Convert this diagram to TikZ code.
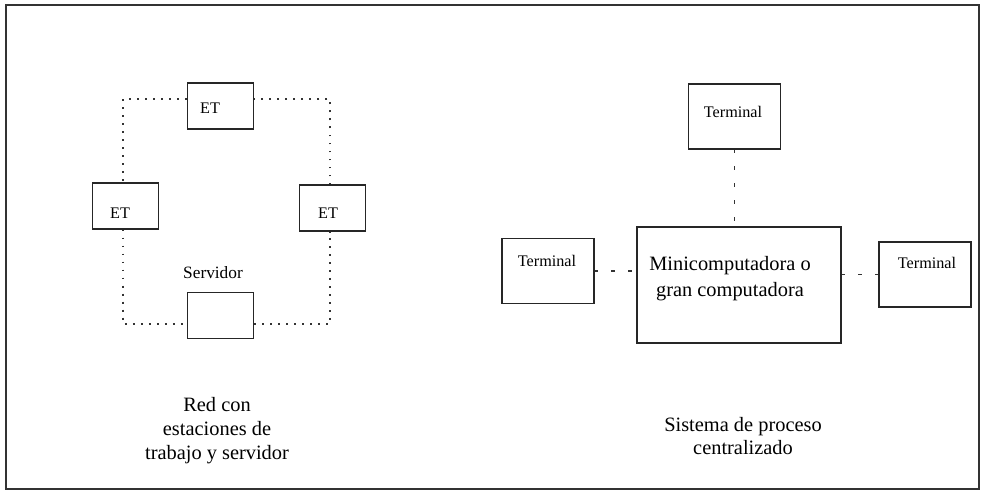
\documentclass[tikz,border=0pt]{standalone}
\usepackage{fontspec}
\setmainfont{Liberation Serif}
\begin{document}
\begin{tikzpicture}[x=0.025cm, y=-0.025cm]
  \tikzset{
    etbox/.style={draw=black!85, line width=0.8pt, minimum width=1.65cm, minimum height=1.15cm, inner sep=0pt},
    termbox/.style={etbox, minimum width=2.3cm, minimum height=1.625cm},
    ring/.style={draw=black!80, line width=1.1pt, dash pattern=on 1.3pt off 4.4pt},
    link/.style={draw=black!80, line width=1pt, dash pattern=on 2.5pt off 9.5pt},
    smalltxt/.style={font=\fontsize{11.5}{13}\selectfont, inner sep=0pt},
    captxt/.style={font=\fontsize{14.5}{17}\selectfont, align=center, inner sep=0pt}
  }
  \useasboundingbox (0,0) rectangle (984,493);
  \draw[black!80, line width=1.2pt] (6,5) rectangle (979,489);

  % red con estaciones de trabajo
  \node[etbox] (ettop) at (220.5,106) {};
  \node[etbox] (etleft) at (125.5,206) {};
  \node[etbox] (etright) at (332.5,208) {};
  \node[etbox] (serv) at (220.5,315.5) {};
  \node[smalltxt] (ettoplbl) at (210,108) {ET};
  \node[smalltxt] (etleftlbl) at (120,213) {ET};
  \node[smalltxt] (etrightlbl) at (328,213) {ET};
  \node[smalltxt, font=\fontsize{12.3}{14}\selectfont] (servlbl) at (213,273) {Servidor};

  \coordinate (rtl) at (123,99);
  \coordinate (rtr) at (330,99);
  \coordinate (rbr) at (330,324);
  \coordinate (rbl) at (123,324);
  \draw[ring] (ettop.west |- rtl) -- (rtl) -- (rtl |- etleft.north);
  \draw[ring] (rtl |- etleft.south) -- (rbl) -- (rbl -| serv.west);
  \draw[ring] (serv.east |- rbr) -- (rbr) -- (rbr |- etright.south);
  \draw[ring] (rtr |- etright.north) -- (rtr) -- (rtr -| ettop.east);

  \node[captxt] (redcap) at (217,431) {Red con\\estaciones de\\trabajo y servidor};

  % sistema centralizado
  \node[termbox] (ttop) at (734.5,116.5) {};
  \node[termbox, minimum width=5.1cm, minimum height=2.9cm] (mini) at (739,285) {};
  \node[termbox] (tleft) at (548,271) {};
  \node[termbox] (tright) at (925,274.5) {};
  \node[smalltxt] (ttoplbl) at (733,112) {Terminal};
  \node[smalltxt] (tleftlbl) at (547,261) {Terminal};
  \node[smalltxt] (trightlbl) at (927,263) {Terminal};
  \node[captxt, font=\fontsize{14.5}{18.5}\selectfont] (minilbl) at (730,279) {Minicomputadora o\\gran computadora};

  \draw[link] (ttop.south) -- (ttop.south |- mini.north);
  \draw[link] (tleft.east) -- (tleft.east -| mini.west);
  \draw[link] (mini.east |- tright.west) -- (tright.west);

  \node[captxt] (sistcap) at (743,436) {Sistema de proceso\\centralizado};
\end{tikzpicture}
\end{document}
